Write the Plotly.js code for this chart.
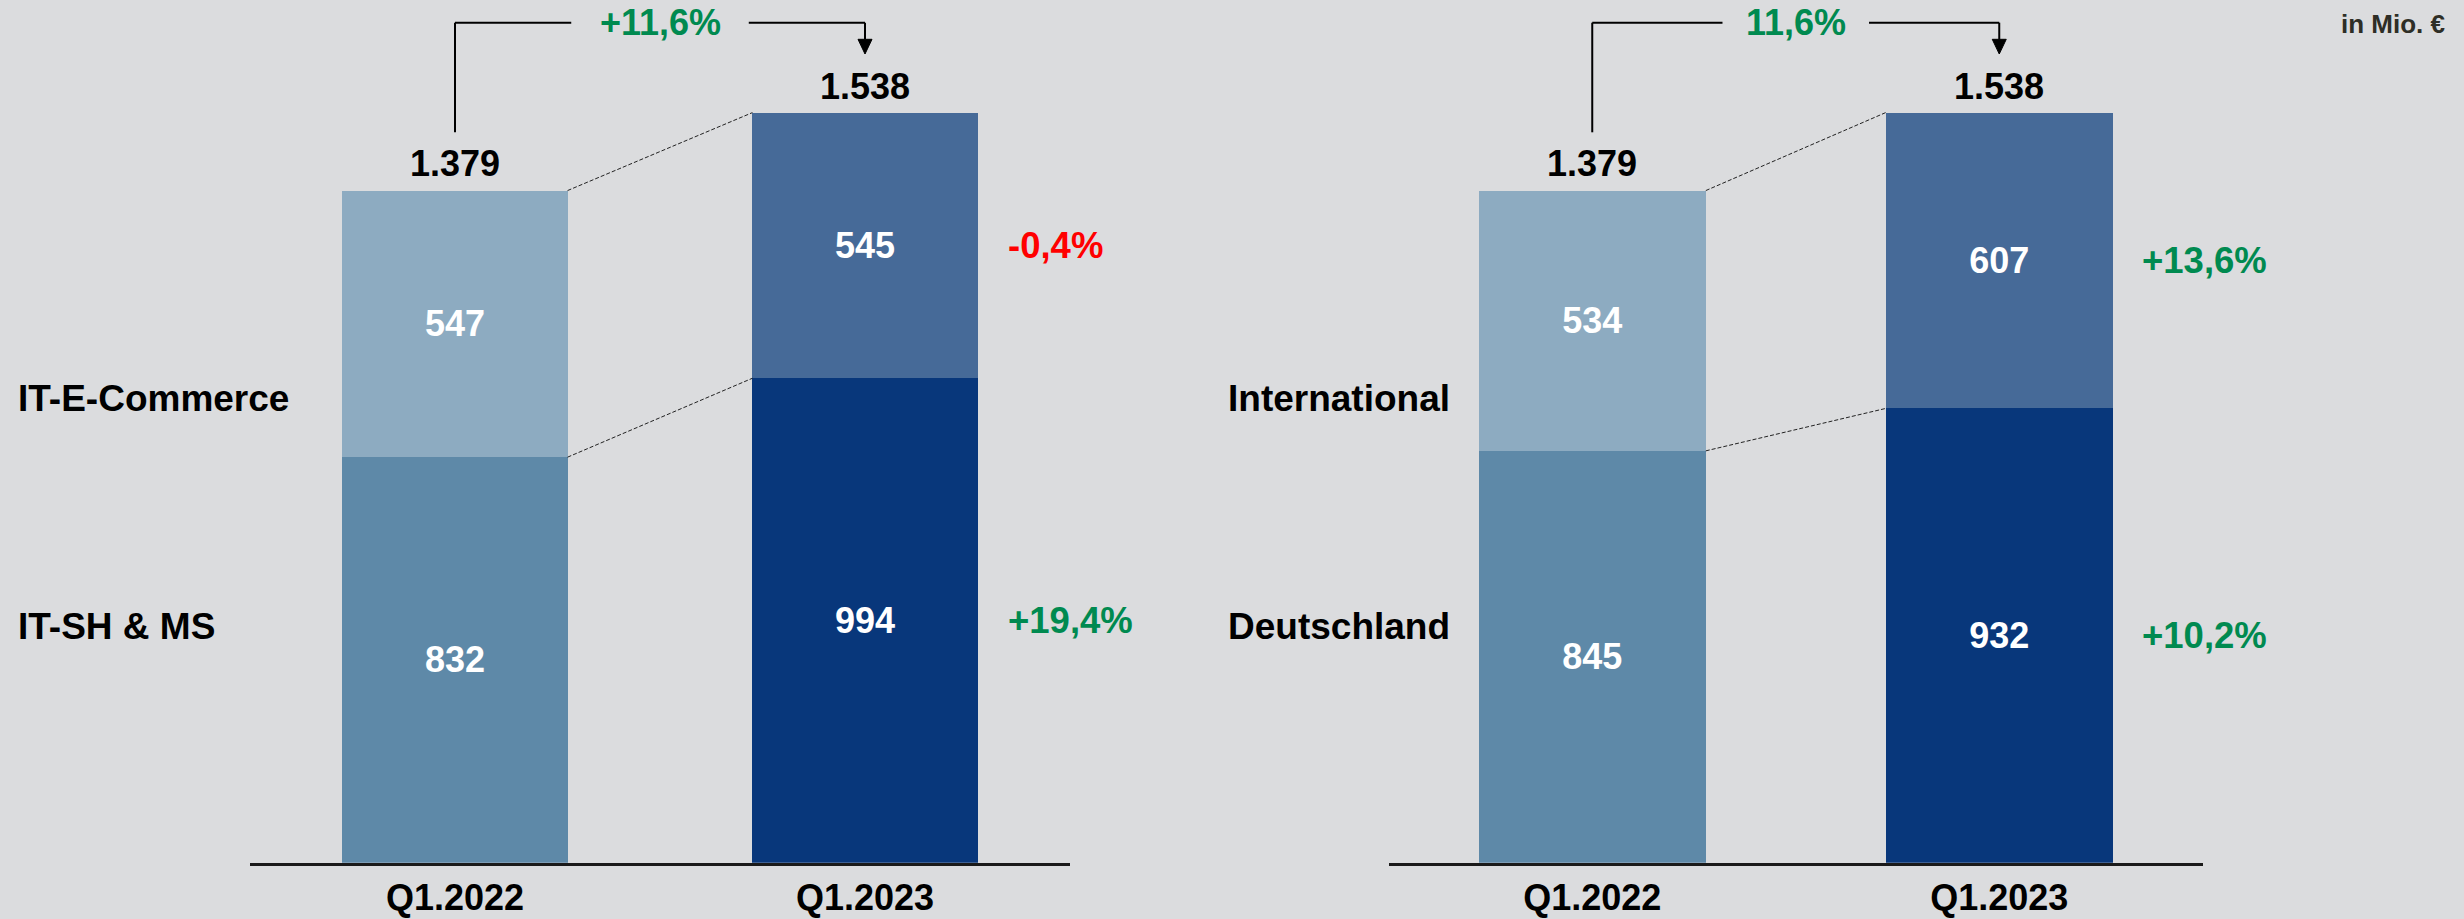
<!DOCTYPE html>
<html>
<head>
<meta charset="utf-8">
<script src="https://cdn.plot.ly/plotly-3.0.1.min.js"></script>
<style>html,body{margin:0;padding:0;background:#DBDCDE;}</style>
</head>
<body>
<div id="chart" style="width:2464px;height:919px;"></div>
<script>
// ---- data ----
const categories = ['Q1.2022', 'Q1.2023'];

const leftSegments = ['IT-SH & MS', 'IT-E-Commerce'];
const leftBottom = [832, 994];
const leftTop = [547, 545];
const leftTotal = [1379, 1538];
const leftGrowthBottom = '+19,4%';
const leftGrowthTop = '-0,4%';
const leftGrowthTotal = '+11,6%';

const rightSegments = ['Deutschland', 'International'];
const rightBottom = [845, 932];
const rightTop = [534, 607];
const rightTotal = [1379, 1538];
const rightGrowthBottom = '+10,2%';
const rightGrowthTop = '+13,6%';
const rightGrowthTotal = '11,6%';

const unitNote = 'in Mio. €';

// ---- styling ----
const colorsBottom = ['#5E89A8', '#08377B'];
const colorsTop = ['#8DABC1', '#466A98'];
const BG = '#DBDCDE';
const GREEN = '#008A50';
const RED = '#FF0000';
const FONT = 'Liberation Sans, Arial, Helvetica, sans-serif';
const W = 2464, H = 919;
const py = px => 1 - px / H;   // pixel row -> paper y

function fmt(n) { return String(n).replace(/\B(?=(\d{3})+(?!\d))/g, '.'); }
function growthColor(s) { return s.trim().startsWith('-') ? RED : GREEN; }

const traces = [], shapes = [], annotations = [];

function panel(xa, ya, barWidth, bottom, top, total, segs, gB, gT, gTot, labelX, gapHalf, unitPx) {
  const xs = categories.map((c, i) => i);
  traces.push({
    type: 'bar', x: xs, y: bottom, xaxis: xa, yaxis: ya, width: barWidth,
    marker: {color: colorsBottom, line: {width: 0}},
    text: bottom.map(String), textposition: 'inside', insidetextanchor: 'middle',
    textfont: {family: FONT, size: 36, color: '#FFFFFF', weight: 700},
    constraintext: 'none', hoverinfo: 'skip', name: segs[0]
  });
  traces.push({
    type: 'bar', x: xs, y: top, xaxis: xa, yaxis: ya, width: barWidth,
    marker: {color: colorsTop, line: {width: 0}},
    text: top.map(String), textposition: 'inside', insidetextanchor: 'middle',
    textfont: {family: FONT, size: 36, color: '#FFFFFF', weight: 700},
    constraintext: 'none', hoverinfo: 'skip', name: segs[1]
  });
  const xr = xa, yr = ya;
  const hw = barWidth / 2;
  // axis shadow line just under the baseline
  shapes.push({type: 'line', xref: xr, yref: yr, ysizemode: 'pixel', yanchor: 0,
    x0: -0.5, x1: 1.5, y0: -2.5, y1: -2.5, line: {color: '#8A8A8A', width: 1.5}, layer: 'below'});
  // dashed connectors (top and split)
  shapes.push({type: 'line', xref: xr, yref: yr, x0: 0 + hw, x1: 1 - hw,
    y0: bottom[0] + top[0], y1: bottom[1] + top[1], line: {color: '#222', width: 1, dash: '4px,2px'}});
  shapes.push({type: 'line', xref: xr, yref: yr, x0: 0 + hw, x1: 1 - hw,
    y0: bottom[0], y1: bottom[1], line: {color: '#222', width: 1, dash: '4px,2px'}});
  // totals above bars
  total.forEach((t, i) => {
    annotations.push({xref: xr, yref: yr, x: i, y: t, text: fmt(t), showarrow: false,
      yanchor: 'middle', yshift: 27, font: {family: FONT, size: 36, color: '#000', weight: 700}});
  });
  // growth labels next to second bar
  const lx = labelX - 3 / unitPx;
  annotations.push({xref: xr, yref: yr, x: lx, y: bottom[1] + top[1] / 2, text: gT,
    showarrow: false, xanchor: 'left', yanchor: 'middle',
    font: {family: FONT, size: 36.5, color: growthColor(gT), weight: 700}});
  annotations.push({xref: xr, yref: yr, x: lx, y: bottom[1] / 2, text: gB,
    showarrow: false, xanchor: 'left', yanchor: 'middle',
    font: {family: FONT, size: 36.5, color: growthColor(gB), weight: 700}});
  // bracket with total growth
  const yTop = py(22.7), yLow = py(132.3), yHead = py(39.3), yTip = py(54);
  const ah = 7 / unitPx;
  const ln = {color: '#000', width: 2};
  shapes.push({type: 'line', xref: xr, yref: 'paper', x0: 0, x1: 0, y0: yLow, y1: yTop, line: ln});
  shapes.push({type: 'line', xref: xr, yref: 'paper', x0: 0, x1: 0.5 - gapHalf, y0: yTop, y1: yTop, line: ln});
  shapes.push({type: 'line', xref: xr, yref: 'paper', x0: 0.5 + gapHalf, x1: 1, y0: yTop, y1: yTop, line: ln});
  shapes.push({type: 'line', xref: xr, yref: 'paper', x0: 1, x1: 1, y0: yTop, y1: yHead, line: ln});
  shapes.push({type: 'path', xref: xr, yref: 'paper',
    path: `M ${1 - ah} ${yHead} L ${1 + ah} ${yHead} L 1 ${yTip} Z`,
    fillcolor: '#000', line: {color: '#000', width: 1}});
  annotations.push({xref: xr, yref: 'paper', x: 0.5, y: yTop, text: gTot, showarrow: false,
    xanchor: 'center', yanchor: 'middle', font: {family: FONT, size: 36, color: growthColor(gTot), weight: 700}});
}

panel('x', 'y', 0.549, leftBottom, leftTop, leftTotal, leftSegments,
  leftGrowthBottom, leftGrowthTop, leftGrowthTotal, 1.351, 0.2165, 410);
panel('x2', 'y2', 0.558, rightBottom, rightTop, rightTotal, rightSegments,
  rightGrowthBottom, rightGrowthTop, rightGrowthTotal, 1.354, 0.18, 407);

// segment names (row labels)
const rowFont = {family: FONT, size: 37, color: '#000', weight: 700};
annotations.push({xref: 'paper', yref: 'paper', x: 16 / W, y: py(398.3), text: leftSegments[1], showarrow: false, xanchor: 'left', yanchor: 'middle', font: rowFont});
annotations.push({xref: 'paper', yref: 'paper', x: 16 / W, y: py(626.3), text: leftSegments[0], showarrow: false, xanchor: 'left', yanchor: 'middle', font: rowFont});
annotations.push({xref: 'paper', yref: 'paper', x: 1226 / W, y: py(399), text: rightSegments[1], showarrow: false, xanchor: 'left', yanchor: 'middle', font: rowFont});
annotations.push({xref: 'paper', yref: 'paper', x: 1226 / W, y: py(626.7), text: rightSegments[0], showarrow: false, xanchor: 'left', yanchor: 'middle', font: rowFont});
annotations.push({xref: 'paper', yref: 'paper', x: 2447 / W, y: py(24), text: unitNote, showarrow: false, xanchor: 'right', yanchor: 'middle',
  font: {family: FONT, size: 26, color: '#2E2E26', weight: 700}});

const yDomain = [56.3 / H, 1];
const xaxisBase = {
  range: [-0.5, 1.5], tickmode: 'array', tickvals: [0, 1], ticktext: categories,
  showgrid: false, zeroline: false, showline: true, linecolor: '#1A1A1A', linewidth: 3,
  ticks: '', ticklabelstandoff: 1,
  tickfont: {family: FONT, size: 36, color: '#000', weight: 700}, fixedrange: true
};
const yaxisBase = {range: [0, 1770], domain: yDomain, visible: false, showgrid: false, zeroline: false, fixedrange: true};

const layout = {
  width: W, height: H,
  margin: {l: 0, r: 0, t: 0, b: 0, pad: 0},
  paper_bgcolor: BG, plot_bgcolor: BG,
  font: {family: FONT},
  showlegend: false, barmode: 'stack',
  xaxis: Object.assign({}, xaxisBase, {domain: [250 / W, 1070 / W], anchor: 'y'}),
  yaxis: Object.assign({}, yaxisBase, {anchor: 'x'}),
  xaxis2: Object.assign({}, xaxisBase, {domain: [1388.75 / W, 2202.75 / W], anchor: 'y2'}),
  yaxis2: Object.assign({}, yaxisBase, {anchor: 'x2'}),
  shapes: shapes, annotations: annotations
};

Plotly.newPlot('chart', traces, layout, {staticPlot: true, displayModeBar: false});
</script>
</body>
</html>
